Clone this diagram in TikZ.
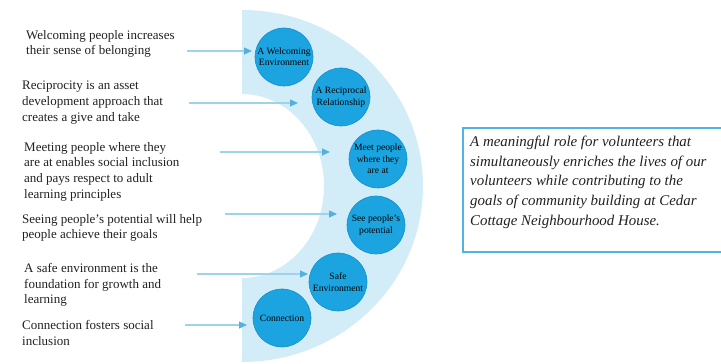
\documentclass[tikz,border=0pt]{standalone}
\usepackage{fontspec}
\setmainfont{Liberation Serif}
\usetikzlibrary{arrows.meta}
\definecolor{bandblue}{HTML}{D3EDF8}
\definecolor{cblue}{HTML}{1BA4E0}
\definecolor{cdark}{HTML}{1590CC}
\definecolor{lineblue}{HTML}{9FD3EC}
\definecolor{headblue}{HTML}{55B0DD}
\definecolor{boxblue}{HTML}{4FB3E3}
\definecolor{tgray}{HTML}{231F20}
\begin{document}
\begin{tikzpicture}[x=1pt,y=1pt,
  circ/.style={circle, fill=cblue, draw=cdark, line width=0.6pt, minimum size=58pt, inner sep=0pt, align=center, font=\fontsize{9.6}{11.4}\selectfont, text=black},
  ltext/.style={anchor=north west, inner sep=0pt, align=left, font=\fontsize{13}{15.7}\selectfont, text=tgray},
  conn/.style={draw=lineblue, line width=1.2pt, -{Triangle[length=8pt,width=7pt,color=headblue]}},
  boxtext/.style={anchor=north west, inner sep=0pt, align=left, font=\fontsize{14.9}{19.6}\selectfont\itshape, text=tgray}]
\useasboundingbox (0,0) rectangle (721,364);
% band
\fill[bandblue] (242,354) arc[start angle=90, end angle=-90, x radius=181, y radius=176]
  -- (242,86) arc[start angle=-90, end angle=90, x radius=82, y radius=92] -- cycle;
% circles
\node[circ] (c1) at (284,307) {A Welcoming\\Environment};
\node[circ] (c2) at (341,267) {A Reciprocal\\Relationship};
\node[circ] (c3) at (378,205) {Meet people\\where they\\are at};
\node[circ] (c4) at (376,139) {See people's\\potential};
\node[circ] (c5) at (338,82) {Safe\\Environment};
\node[circ] (c6) at (282,46) {Connection};
% left texts
\node[ltext] (t1) at (26,334) {Welcoming people increases\\their sense of belonging};
\node[ltext] (t2) at (22,283) {Reciprocity is an asset\\development approach that\\creates a give and take};
\node[ltext] (t3) at (24,222) {Meeting people where they\\are at enables social inclusion\\and pays respect to adult\\learning principles};
\node[ltext] (t4) at (22,150) {Seeing people's potential will help\\people achieve their goals};
\node[ltext] (t5) at (24,101) {A safe environment is the\\foundation for growth and\\learning};
\node[ltext] (t6) at (22,44) {Connection fosters social\\inclusion};
% arrows
\coordinate (s1) at (187,313); \coordinate (e1) at (252,313);
\coordinate (s2) at (189,261); \coordinate (e2) at (298,261);
\coordinate (s3) at (220,212); \coordinate (e3) at (330,212);
\coordinate (s4) at (225,150); \coordinate (e4) at (337,150);
\coordinate (s5) at (197,90);  \coordinate (e5) at (308,90);
\coordinate (s6) at (185,39);  \coordinate (e6) at (247,39);
\draw[conn] (s1) -- (e1);
\draw[conn] (s2) -- (e2);
\draw[conn] (s3) -- (e3);
\draw[conn] (s4) -- (e4);
\draw[conn] (s5) -- (e5);
\draw[conn] (s6) -- (e6);
% right box
\draw[boxblue, line width=1.8pt] (721,236) -- (463,236) -- (463,112) -- (721,112);
\node[boxtext] (bt) at (470,228) {A meaningful role for volunteers that\\simultaneously enriches the lives of our\\volunteers while contributing to the\\goals of community building at Cedar\\Cottage Neighbourhood House.};
\end{tikzpicture}
\end{document}
